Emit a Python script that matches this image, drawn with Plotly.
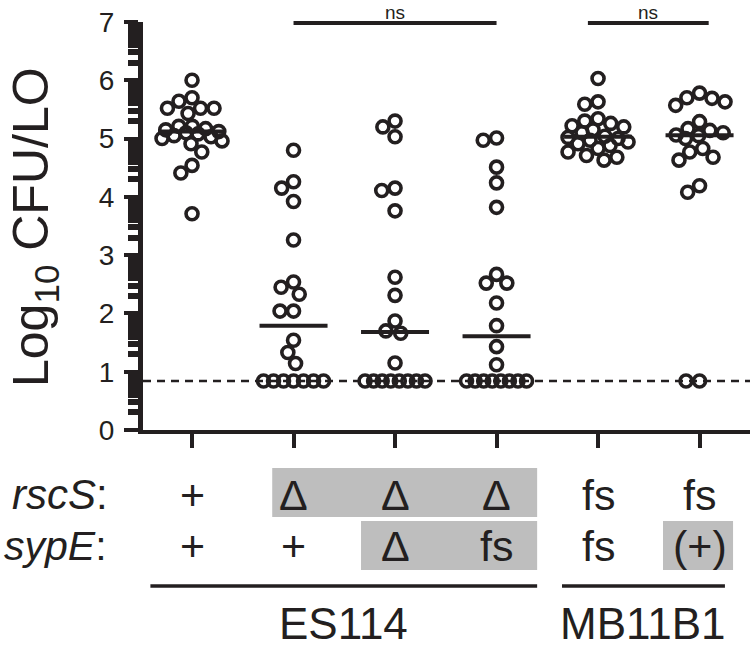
import numpy as np
import plotly.graph_objects as go

# ---------------- data ----------------
LOD = 0.84
group_ids = [0, 1, 2, 3, 4, 5]
g1 = [6.0, 5.70, 5.64, 5.52, 5.52, 5.52, 5.43, 5.21, 5.21, 5.17, 5.15, 5.12,
      5.10, 5.08, 5.05, 5.03, 5.0, 4.96, 4.91, 4.77, 4.54, 4.41, 3.71]
g2 = [4.80, 4.26, 4.15, 3.92, 3.26, 2.54, 2.45, 2.33, 2.04, 2.04, 1.54, 1.33, 1.14,
      0.84, 0.84, 0.84, 0.84, 0.84, 0.84, 0.84]
g3 = [5.30, 5.20, 5.03, 4.15, 4.11, 3.76, 2.62, 2.31, 1.87, 1.70, 1.66, 1.15,
      0.84, 0.84, 0.84, 0.84, 0.84, 0.84, 0.84, 0.84]
g4 = [5.01, 4.97, 4.51, 4.24, 3.82, 2.67, 2.52, 2.52, 2.18, 1.79, 1.43, 1.12,
      0.84, 0.84, 0.84, 0.84, 0.84, 0.84, 0.84, 0.84]
g5 = [6.03, 5.63, 5.59, 5.34, 5.30, 5.26, 5.22, 5.20, 5.15, 5.10, 5.04, 5.02,
      5.00, 4.97, 4.94, 4.91, 4.88, 4.83, 4.77, 4.71, 4.68, 4.63]
g6 = [5.78, 5.70, 5.69, 5.63, 5.57, 5.29, 5.17, 5.14, 5.10, 5.06, 5.05, 5.00,
      4.83, 4.77, 4.68, 4.63, 4.19, 4.08, 0.84, 0.84]
groups = [g1, g2, g3, g4, g5, g6]

rscS_row = ["+", "\u0394", "\u0394", "\u0394", "fs", "fs"]
sypE_row = ["+", "+", "\u0394", "fs", "fs", "(+)"]
strain_names = ["ES114", "MB11B1"]
y_ticks = [0, 1, 2, 3, 4, 5, 6, 7]
ns_pairs = [(1, 3), (3.9, 5.09)]

# ---------------- geometry ----------------
W, H = 750, 654
ML, MR, MT = 143, 0, 22
PLOT_BOTTOM = 430
MB = H - PLOT_BOTTOM
PW, PH = W - ML - MR, H - MT - MB
XR = [-0.483, 5.497]
YR = [0, 7]
SX = PW / (XR[1] - XR[0])
SY = PH / (YR[1] - YR[0])
INK = "#231f20"
FONT = "Liberation Sans, Arial, Helvetica, sans-serif"


def swarm_offsets(vals, d=13.5, maxw=30.0):
    v = np.asarray(vals, float)
    ypx = v * SY
    xs = np.full(len(v), np.nan)
    placed = []
    uniq, counts = np.unique(v, return_counts=True)
    for u, c in zip(uniq, counts):
        if c >= 4:
            idx = np.where(v == u)[0]
            w = min((c - 1) * d / 2, maxw)
            for i, o in zip(idx, np.linspace(-w, w, c)):
                xs[i] = o
                placed.append((o, ypx[i]))
    order = [i for i in np.argsort(-v, kind="stable") if np.isnan(xs[i])]
    for i in order:
        y = ypx[i]
        cands = [0.0]
        for px, py_ in placed:
            dy = abs(py_ - y)
            if dy < d:
                dx = np.sqrt(d * d - dy * dy)
                cands += [px - dx, px + dx]

        def ok(x):
            return all((x - px) ** 2 + (y - py_) ** 2 >= d * d - 1e-6 for px, py_ in placed)

        valid = [c for c in cands if ok(c)]
        best = min(valid, key=lambda c: (round(abs(c), 6), c))
        if abs(best) > maxw:
            grid = np.linspace(-maxw, maxw, 61)
            best = max(grid, key=lambda x: min((x - px) ** 2 + (y - py_) ** 2 for px, py_ in placed))
        xs[i] = best
        placed.append((best, y))
    return xs / SX


def py(pix):
    """screen pixel row -> paper y"""
    return (MT + PH - pix) / PH


def px_(pix):
    """screen pixel column -> paper x"""
    return (pix - ML) / PW


fig = go.Figure()

for gi, vals in zip(group_ids, groups):
    offs = swarm_offsets(vals)
    fig.add_trace(go.Scatter(
        x=gi + offs, y=vals, mode="markers",
        marker=dict(symbol="circle-open", size=12, color=INK,
                    line=dict(width=3.6, color=INK)),
        showlegend=False, cliponaxis=False, hoverinfo="y"))

for gi, vals in zip(group_ids, groups):
    med = float(np.median(vals))
    fig.add_trace(go.Scatter(
        x=[gi - 0.335, gi + 0.335], y=[med, med], mode="lines",
        line=dict(color=INK, width=4), showlegend=False, hoverinfo="skip"))

shapes = []
# limit of detection
shapes.append(dict(type="line", xref="paper", yref="y", x0=0, x1=1, y0=LOD, y1=LOD,
                   line=dict(color=INK, width=2.5, dash="8px,6px"), layer="below"))
# significance brackets
for a, b in ns_pairs:
    shapes.append(dict(type="line", xref="x", yref="paper", x0=a, x1=b,
                       y0=py(23), y1=py(23), line=dict(color=INK, width=4)))
# gray boxes of the genotype table
box_color = "#bebebe"
shapes.append(dict(type="rect", xref="x", yref="paper", x0=0.79, x1=3.40,
                   y0=py(517), y1=py(468), fillcolor=box_color, line=dict(width=0), layer="below"))
shapes.append(dict(type="rect", xref="x", yref="paper", x0=1.665, x1=3.40,
                   y0=py(570), y1=py(521), fillcolor=box_color, line=dict(width=0), layer="below"))
shapes.append(dict(type="rect", xref="x", yref="paper", x0=4.64, x1=5.33,
                   y0=py(570), y1=py(521), fillcolor=box_color, line=dict(width=0), layer="below"))
# strain underlines
strain_spans = [(-0.41, 3.40), (3.645, 5.25)]
for a, b in strain_spans:
    shapes.append(dict(type="line", xref="x", yref="paper", x0=a, x1=b,
                       y0=py(586), y1=py(586), line=dict(color=INK, width=3.5)))

ann = []
for a, b in ns_pairs:
    ann.append(dict(x=(a + b) / 2, y=py(12), xref="x", yref="paper", text="ns",
                    showarrow=False, xanchor="center", yanchor="middle",
                    font=dict(size=19, color=INK, family=FONT)))
for gi, t in zip(group_ids, rscS_row):
    ann.append(dict(x=gi, y=py(495), xref="x", yref="paper", text=t, showarrow=False,
                    font=dict(size=43, color=INK, family=FONT),
                    xanchor="center", yanchor="middle"))
for gi, t in zip(group_ids, sypE_row):
    ann.append(dict(x=gi, y=py(546), xref="x", yref="paper", text=t, showarrow=False,
                    font=dict(size=43, color=INK, family=FONT),
                    xanchor="center", yanchor="middle"))
ann.append(dict(x=px_(110), y=py(495), xref="paper", yref="paper",
                text="<i>rscS</i>:", showarrow=False, xanchor="right", yanchor="middle",
                font=dict(size=42, color=INK, family=FONT)))
ann.append(dict(x=px_(109), y=py(546), xref="paper", yref="paper",
                text="<i>sypE</i>:", showarrow=False, xanchor="right", yanchor="middle",
                font=dict(size=41, color=INK, family=FONT)))
for name, (a, b) in zip(strain_names, strain_spans):
    ann.append(dict(x=(a + b) / 2, y=py(623), xref="x", yref="paper", text=name,
                    showarrow=False, xanchor="center", yanchor="middle",
                    font=dict(size=44, color=INK, family=FONT)))
ann.append(dict(x=px_(34), y=py(227), xref="paper", yref="paper",
                text="Log<sub>10</sub> CFU/LO", textangle=-90, showarrow=False,
                xanchor="center", yanchor="middle",
                font=dict(size=50, color=INK, family=FONT)))

minor_vals = [n + np.log10(k) for n in range(7) for k in range(2, 10)]

fig.update_layout(
    width=W, height=H, margin=dict(l=ML, r=MR, t=MT, b=MB),
    paper_bgcolor="white", plot_bgcolor="white",
    shapes=shapes, annotations=ann, showlegend=False,
    font=dict(family=FONT, color=INK),
    xaxis=dict(range=XR, tickvals=group_ids, showticklabels=False, ticks="outside",
               ticklen=14, tickwidth=4, tickcolor=INK, showline=True, linewidth=4,
               linecolor=INK, showgrid=False, zeroline=False, fixedrange=True),
    yaxis=dict(range=YR, tickvals=y_ticks, ticktext=[str(t) for t in y_ticks],
               ticks="outside", ticklen=14, tickwidth=4, tickcolor=INK,
               showline=True, linewidth=5, linecolor=INK, showgrid=False,
               zeroline=False, tickfont=dict(size=28, color=INK, family=FONT),
               ticklabeloverflow="allow", ticklabelstandoff=4,
               minor=dict(tickvals=minor_vals, ticks="outside", ticklen=10,
                          tickwidth=6, tickcolor=INK, showgrid=False),
               fixedrange=True),
)

fig.write_html("out.html", config={"displayModeBar": False},
               post_script="document.body.style.margin='0';document.body.style.padding='0';")
